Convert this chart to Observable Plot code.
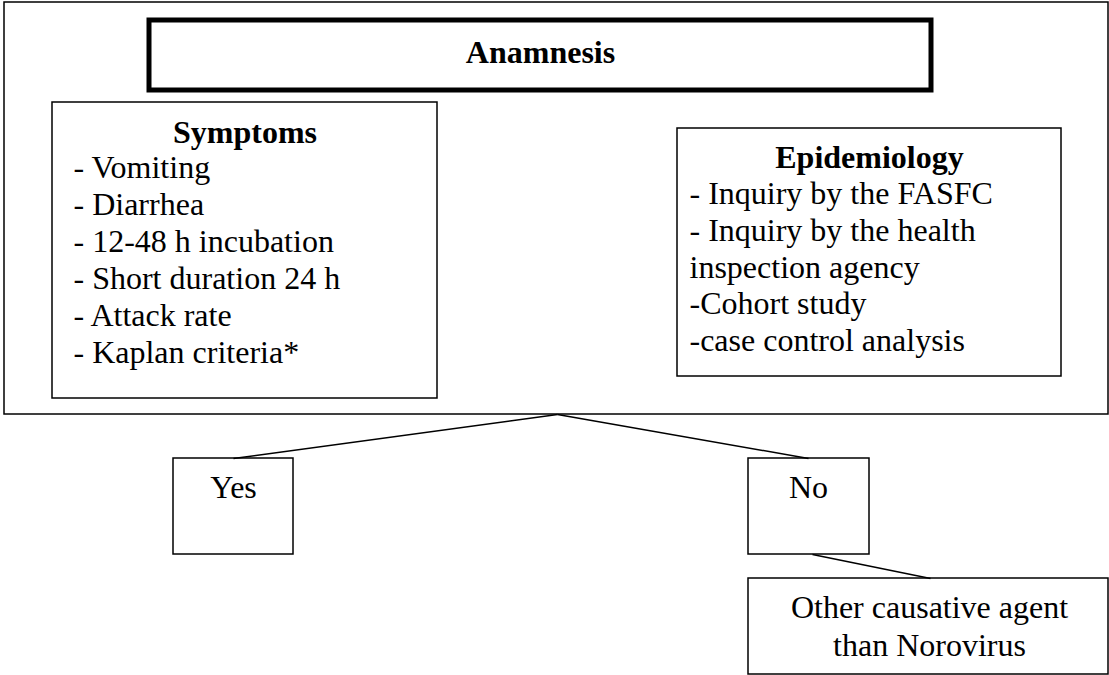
<!DOCTYPE html>
<html>
<head>
<meta charset="utf-8">
<script src="https://cdn.jsdelivr.net/npm/d3@7"></script>
<script src="https://cdn.jsdelivr.net/npm/@observablehq/plot@0.6"></script>
<style>
  html, body { margin: 0; padding: 0; background: #fff; }
  svg { display: block; }
</style>
</head>
<body>
<div id="chart"></div>
<script>
// Diagram boxes (in diagram units: x 0..1109, y 0..675, y downward)
const outerBox = [{x1: 4, x2: 1108, y1: 2, y2: 414}];
const titleBox = [{x1: 149, x2: 931, y1: 20, y2: 90}];
const boxes = [
  {name: "Symptoms", x1: 52, x2: 437, y1: 102, y2: 398},
  {name: "Epidemiology", x1: 677, x2: 1061, y1: 128, y2: 376},
  {name: "Yes", x1: 173, x2: 293, y1: 458, y2: 554},
  {name: "No", x1: 748, x2: 869, y1: 458, y2: 554},
  {name: "Other", x1: 748, x2: 1108, y1: 578, y2: 674}
];
const connectors = [
  {x1: 557, y1: 414, x2: 233, y2: 458},
  {x1: 557, y1: 414, x2: 808, y2: 458},
  {x1: 812, y1: 554, x2: 930, y2: 578}
];
const headings = [
  {label: "Anamnesis", x: 540, y: 62},
  {label: "Symptoms", x: 244.5, y: 142},
  {label: "Epidemiology", x: 869, y: 167}
];
const symptomItems = [
  "- Vomiting", "- Diarrhea", "- 12-48 h incubation",
  "- Short duration 24 h", "- Attack rate", "- Kaplan criteria*"
];
const symptomBaselines = [177, 214, 251, 288, 325, 362];
const epiItems = [
  "- Inquiry by the FASFC", "- Inquiry by the health", "inspection agency",
  "-Cohort study", "-case control analysis"
];
const epiBaselines = [203, 240, 277, 313, 350];
const centeredLabels = [
  {label: "Yes", x: 233, y: 497},
  {label: "No", x: 808, y: 497},
  {label: "Other causative agent", x: 929, y: 617},
  {label: "than Norovirus", x: 929, y: 655}
];

const symptomRows = symptomItems.map((t, i) => ({label: t, x: 73, y: symptomBaselines[i]}));
const epiRows = epiItems.map((t, i) => ({label: t, x: 689, y: epiBaselines[i]}));

const font = "'Liberation Serif', 'Times New Roman', serif";
const textOpts = {fontSize: 32, fill: "black", lineAnchor: "bottom", fontFamily: font};

const chart = Plot.plot({
  width: 1109,
  height: 675,
  margin: 0,
  x: {domain: [0, 1109], range: [0, 1109], axis: null},
  y: {domain: [0, 675], range: [0, 675], axis: null},
  style: {fontFamily: font, background: "white"},
  marks: [
    Plot.rect(outerBox, {x1: "x1", x2: "x2", y1: "y1", y2: "y2", fill: "white", stroke: "black", strokeWidth: 1.5}),
    Plot.rect(titleBox, {x1: "x1", x2: "x2", y1: "y1", y2: "y2", fill: "white", stroke: "black", strokeWidth: 5}),
    Plot.rect(boxes, {x1: "x1", x2: "x2", y1: "y1", y2: "y2", fill: "white", stroke: "black", strokeWidth: 1.5}),
    Plot.link(connectors, {x1: "x1", y1: "y1", x2: "x2", y2: "y2", stroke: "black", strokeWidth: 1.5}),
    Plot.text(headings, {x: "x", y: "y", text: "label", textAnchor: "middle", fontWeight: "bold", ...textOpts}),
    Plot.text(symptomRows, {x: "x", y: "y", text: "label", textAnchor: "start", ...textOpts}),
    Plot.text(epiRows, {x: "x", y: "y", text: "label", textAnchor: "start", ...textOpts}),
    Plot.text(centeredLabels, {x: "x", y: "y", text: "label", textAnchor: "middle", ...textOpts})
  ]
});
document.getElementById("chart").appendChild(chart);
</script>
</body>
</html>
